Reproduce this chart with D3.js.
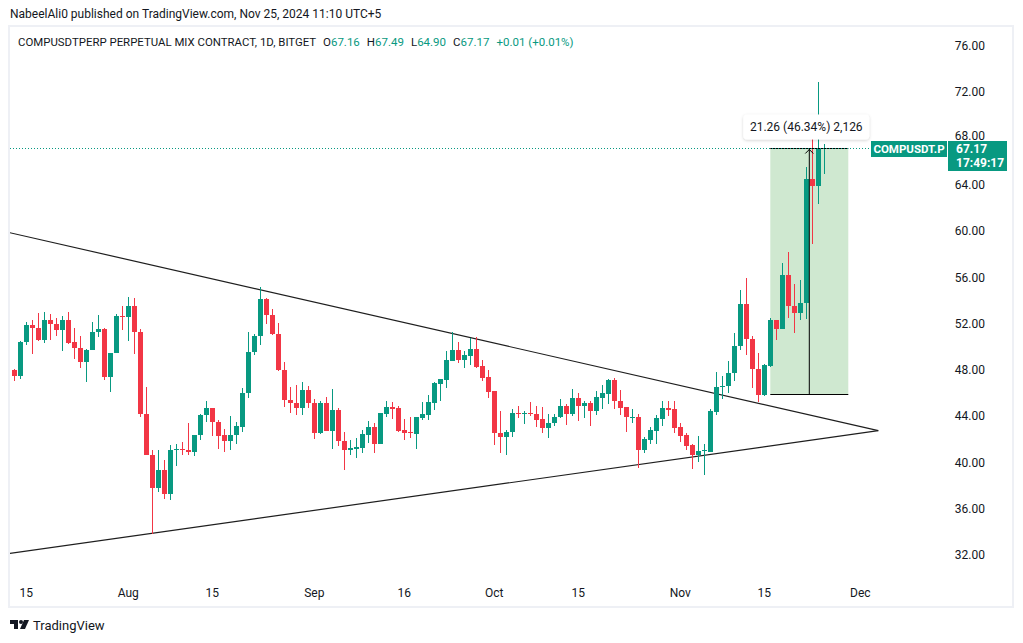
<!DOCTYPE html>
<html lang="en">
<head>
<meta charset="utf-8">
<title>COMPUSDT.P 1D</title>
<script src="https://cdn.jsdelivr.net/npm/d3@7"></script>
<style>
  body { margin: 0; background: #fff; }
  text { font-family: Roboto, "Liberation Sans", sans-serif; }
</style>
</head>
<body>
<script>
// daily candles, first one is Jul 13 2024
const firstDay = "2024-07-13";
const opens = [
  47.96, 47.44, 50.38, 51.90, 51.64, 50.61, 52.34, 51.99, 51.41, 52.34, 50.43, 49.92, 48.65, 49.69, 51.24, 51.56, 47.35, 49.43, 52.68,
  52.54, 53.54, 51.30, 44.22, 40.68, 37.77, 39.38, 37.25, 41.11, 41.19, 41.11, 40.88, 42.34, 44.07, 44.73, 43.53, 42.34, 41.83, 42.34, 43.04, 45.97, 49.51, 50.90, 54.15, 52.77, 51.13, 48.02, 45.43, 45.17, 44.68, 46.29,
  45.17, 42.52, 45.17, 42.69, 44.56, 41.89, 41.05, 41.14, 41.22, 42.35, 43.04, 41.57, 44.16, 44.77, 44.68, 42.78, 42.61, 42.43, 43.81, 44.07, 45.11, 46.75, 47.10, 48.74, 49.69, 48.83, 49.17, 49.78, 48.31, 47.36,
  46.15, 42.58, 42.18, 42.61, 44.31, 44.16, 44.31, 44.22, 43.73, 42.95, 43.38, 43.90, 44.91, 44.22, 45.60, 44.91, 45.17, 44.48, 45.60, 45.95, 47.16, 45.34, 44.83, 43.90, 43.96, 41.05, 41.92, 42.69, 43.73, 44.74, 44.65,
  43.04, 42.35, 41.48, 40.62, 40.97, 40.88, 44.39, 46.55, 46.58, 47.70, 50.03, 53.69, 50.66, 48.07, 45.86, 48.36, 52.33, 51.53, 56.22, 53.54, 52.91, 53.78, 64.51, 63.94, 67.16
];
const highs = [
  48.07, 50.52, 52.16, 52.34, 52.88, 53.03, 52.80, 52.45, 52.62, 53.03, 51.64, 50.95, 49.83, 52.16, 52.77, 51.64, 49.49, 52.80, 53.54,
  54.32, 54.24, 51.53, 46.55, 41.11, 41.11, 40.24, 41.48, 41.57, 41.80, 43.41, 42.40, 44.22, 45.34, 44.73, 43.70, 42.92, 43.99, 43.53, 46.40, 51.24, 51.13, 55.16, 54.24, 53.29, 52.08, 48.71, 46.49, 46.72, 46.98, 46.64,
  45.51, 45.34, 45.69, 46.38, 44.74, 42.66, 41.97, 42.14, 42.78, 43.56, 43.38, 44.25, 45.28, 45.20, 44.86, 43.73, 43.90, 43.90, 45.20, 45.80, 46.92, 47.18, 49.60, 51.24, 50.38, 49.60, 50.72, 50.81, 48.83, 47.96,
  46.15, 44.48, 42.84, 44.65, 44.91, 44.48, 45.26, 44.91, 44.83, 44.22, 44.22, 45.51, 45.08, 46.38, 46.03, 45.34, 45.34, 46.21, 46.72, 47.24, 47.33, 46.29, 44.83, 44.65, 44.22, 42.18, 43.04, 44.08, 45.34, 45.34, 45.34,
  43.39, 42.52, 41.57, 42.26, 41.57, 44.65, 47.85, 47.50, 48.80, 51.18, 54.87, 55.96, 50.89, 49.45, 48.53, 52.48, 52.33, 57.23, 58.15, 55.44, 55.79, 65.58, 68.60, 72.92, 67.49
];
const lows = [
  47.01, 47.24, 50.12, 49.40, 50.52, 50.32, 50.61, 50.90, 49.66, 50.26, 48.97, 48.19, 46.92, 49.69, 50.87, 47.10, 46.06, 49.43, 51.41,
  50.46, 49.34, 43.93, 40.62, 33.85, 37.42, 36.82, 36.73, 39.67, 40.62, 40.62, 40.53, 41.91, 43.47, 42.26, 41.14, 40.88, 41.05, 41.57, 42.60, 45.54, 49.26, 50.12, 51.93, 50.98, 47.88, 44.79, 44.25, 44.07, 44.07, 44.68,
  42.00, 42.43, 42.69, 41.14, 41.40, 39.32, 40.62, 40.36, 40.79, 41.66, 40.79, 41.57, 43.90, 43.73, 42.61, 41.92, 42.09, 41.14, 43.64, 43.64, 44.51, 45.28, 46.41, 48.74, 48.57, 48.13, 48.39, 48.13, 47.01, 45.54,
  41.48, 40.79, 40.62, 42.18, 43.82, 43.30, 43.99, 43.04, 42.52, 42.09, 43.12, 43.82, 43.21, 43.99, 43.56, 43.82, 43.12, 44.08, 44.65, 45.08, 44.65, 44.13, 42.61, 43.38, 39.50, 40.79, 41.57, 41.57, 43.12, 43.99, 42.52,
  41.74, 41.05, 39.41, 40.02, 38.89, 40.88, 44.13, 45.51, 46.00, 47.01, 49.74, 49.25, 46.43, 45.20, 45.71, 48.25, 50.55, 51.53, 52.48, 51.18, 52.33, 52.39, 58.87, 62.32, 64.90
];
const closes = [
  47.44, 50.43, 51.90, 51.59, 50.61, 52.34, 51.93, 51.41, 52.34, 50.32, 49.86, 48.65, 49.74, 51.30, 51.56, 47.35, 49.49, 52.68, 52.62,
  53.54, 51.24, 44.16, 40.62, 37.77, 39.38, 37.25, 41.11, 41.19, 41.11, 40.88, 42.40, 44.13, 44.73, 43.47, 42.26, 41.83, 42.40, 43.12, 46.03, 49.57, 50.95, 54.15, 52.71, 51.07, 47.96, 45.37, 45.11, 44.68, 46.29, 45.11,
  42.52, 45.17, 42.69, 44.56, 41.83, 41.05, 41.22, 41.31, 42.43, 43.04, 41.57, 44.25, 44.77, 44.59, 42.69, 42.52, 42.52, 43.90, 44.16, 45.20, 46.84, 47.18, 48.83, 49.69, 48.83, 49.26, 49.78, 48.22, 47.27, 46.06,
  42.52, 42.18, 42.67, 44.31, 44.16, 44.31, 44.16, 43.64, 42.95, 43.44, 43.96, 44.91, 44.22, 45.60, 44.91, 45.17, 44.48, 45.69, 46.03, 47.16, 45.29, 44.74, 43.90, 43.96, 41.05, 42.00, 42.78, 43.82, 44.74, 44.56, 42.95,
  42.26, 41.40, 40.62, 40.97, 41.05, 44.48, 46.55, 46.64, 47.73, 50.09, 53.69, 50.66, 48.07, 45.86, 48.45, 52.33, 51.53, 56.22, 53.49, 52.91, 53.78, 64.51, 63.94, 67.16, 67.17
];

const priceTicks = [32, 36, 40, 44, 48, 52, 56, 60, 64, 68, 72, 76];
const timeTicks = [
  ["2024-07-15", "15"], ["2024-08-01", "Aug"], ["2024-08-15", "15"], ["2024-09-01", "Sep"], ["2024-09-16", "16"],
  ["2024-10-01", "Oct"], ["2024-10-15", "15"], ["2024-11-01", "Nov"], ["2024-11-15", "15"], ["2024-12-01", "Dec"]
];

// triangle drawn on the chart
const upperTrend = [["2024-07-12", 59.89], ["2024-12-04", 42.75]];
const lowerTrend = [["2024-07-12", 32.12], ["2024-12-04", 42.75]];

// price range measurement
const measureFrom = ["2024-11-16", 45.88];
const measureTo = ["2024-11-29", 67.14];

const symbolTag = "COMPUSDT.P";
const countdown = "17:49:17";

const W = 1023, H = 643;
const up = "#089981", down = "#f23645", ink = "#131722";
const parse = d3.utcParse("%Y-%m-%d");
const fmt = d3.format(".2f");

const candles = opens.map((o, i) => ({
  date: d3.utcDay.offset(parse(firstDay), i),
  o, h: highs[i], l: lows[i], c: closes[i]
}));

const x = d3.scaleUtc()
  .domain([parse("2024-07-12"), parse("2024-12-04")])
  .range([8.3, 878.3]);
const y = d3.scaleLinear().domain([32, 76]).range([555, 46]);

const svg = d3.select("body").append("svg")
  .attr("width", W).attr("height", H)
  .style("display", "block");

svg.append("rect").attr("width", W).attr("height", H).attr("fill", "#fff");

const defs = svg.append("defs");
defs.append("clipPath").attr("id", "plot")
  .append("rect").attr("x", 10).attr("y", 27).attr("width", 937).attr("height", 548);
const sh = defs.append("filter").attr("id", "shadow").attr("x", "-20%").attr("y", "-40%").attr("width", "140%").attr("height", "180%");
sh.append("feDropShadow").attr("dx", 0).attr("dy", 1).attr("stdDeviation", 1.5).attr("flood-color", "#000").attr("flood-opacity", 0.18);

// publisher line
svg.append("text").attr("x", 10).attr("y", 18)
  .attr("font-size", 12).attr("fill", ink)
  .text("NabeelAli0 published on TradingView.com, Nov 25, 2024 11:10 UTC+5");

// outer frame
svg.append("rect").attr("x", 9).attr("y", 26).attr("width", 1004).attr("height", 581)
  .attr("fill", "none").attr("stroke", "#eef0f5").attr("stroke-width", 2);

const plot = svg.append("g").attr("clip-path", "url(#plot)");

// measurement box (under the candles)
const mx0 = x(parse(measureFrom[0])), mx1 = x(parse(measureTo[0]));
const myLo = y(measureFrom[1]), myHi = y(measureTo[1]);
plot.append("rect")
  .attr("x", mx0).attr("y", myHi).attr("width", mx1 - mx0).attr("height", myLo - myHi)
  .attr("fill", "#cfe8d0");

// trendlines
const line = d3.line().x(d => x(parse(d[0]))).y(d => y(d[1]));
plot.selectAll("path.trend")
  .data([upperTrend, lowerTrend])
  .join("path")
  .attr("class", "trend")
  .attr("d", line)
  .attr("fill", "none").attr("stroke", "#1e1e1e").attr("stroke-width", 1.2);

// candles
const cg = plot.append("g").attr("shape-rendering", "crispEdges");
const cand = cg.selectAll("g").data(candles).join("g")
  .attr("fill", d => d.c >= d.o ? up : down);
cand.append("rect")
  .attr("x", d => Math.round(x(d.date)))
  .attr("y", d => y(d.h))
  .attr("width", 1)
  .attr("height", d => Math.max(1, y(d.l) - y(d.h)));
cand.append("rect")
  .attr("x", d => Math.round(x(d.date)) - 2)
  .attr("y", d => y(Math.max(d.o, d.c)))
  .attr("width", 5)
  .attr("height", d => Math.max(1, Math.abs(y(d.o) - y(d.c))));

// measurement lines + arrow
const mxMid = (mx0 + mx1) / 2;
const mg = plot.append("g").attr("stroke", "#000").attr("stroke-width", 1).attr("fill", "none");
mg.append("line").attr("x1", mx0).attr("x2", mx1).attr("y1", Math.round(myLo) + 0.5).attr("y2", Math.round(myLo) + 0.5);
mg.append("line").attr("x1", mx0).attr("x2", mx1).attr("y1", Math.round(myHi) + 0.5).attr("y2", Math.round(myHi) + 0.5);
mg.append("line").attr("x1", mxMid).attr("x2", mxMid).attr("y1", myLo).attr("y2", myHi);
mg.append("path").attr("d", `M${mxMid - 4},${myHi + 5}L${mxMid},${myHi + 1}L${mxMid + 4},${myHi + 5}`);

// last price dotted line
const last = candles[candles.length - 1];
const prev = candles[candles.length - 2];
const ly = Math.round(y(last.c)) + 0.5;
svg.append("line").attr("x1", 10).attr("x2", 871).attr("y1", ly).attr("y2", ly)
  .attr("stroke", up).attr("stroke-width", 1).attr("stroke-dasharray", "1,2");

// measurement label
const diff = measureTo[1] - measureFrom[1];
const mLabel = `${fmt(diff)} (${fmt(diff / measureFrom[1] * 100)}%) ${d3.format(",")(Math.round(diff * 100))}`;
const lg = svg.append("g").attr("transform", `translate(${mxMid - 3},127)`);
lg.append("rect").attr("x", -63).attr("y", -12.5).attr("width", 126).attr("height", 25).attr("rx", 4)
  .attr("fill", "#fff").attr("filter", "url(#shadow)");
lg.append("text").attr("text-anchor", "middle").attr("dy", "0.35em")
  .attr("font-size", 12).attr("fill", ink).text(mLabel);

// price axis (the 68 label sits mostly behind the price tag, like the original)
svg.append("g").selectAll("text").data(priceTicks).join("text")
  .attr("x", 985).attr("y", d => y(d)).attr("dy", d => d === 68 ? "0.1em" : "0.35em")
  .attr("text-anchor", "end").attr("font-size", 12).attr("fill", ink)
  .text(d => fmt(d));

// time axis
svg.append("g").selectAll("text").data(timeTicks).join("text")
  .attr("x", d => x(parse(d[0]))).attr("y", 597)
  .attr("text-anchor", "middle").attr("font-size", 12).attr("fill", ink)
  .text(d => d[1]);

// last price tags
const ty = Math.round(y(last.c)) - 7;
svg.append("rect").attr("x", 871).attr("y", ty).attr("width", 76).attr("height", 16).attr("fill", up);
svg.append("text").attr("x", 909).attr("y", ty + 12).attr("text-anchor", "middle")
  .attr("font-size", 11.5).attr("font-weight", "bold").attr("fill", "#fff").text(symbolTag);
svg.append("rect").attr("x", 948).attr("y", ty).attr("width", 59).attr("height", 30).attr("fill", up);
svg.append("text").attr("x", 956).attr("y", ty + 12)
  .attr("font-size", 12).attr("font-weight", "bold").attr("fill", "#fff").text(fmt(last.c));
svg.append("text").attr("x", 956).attr("y", ty + 26)
  .attr("font-size", 12).attr("font-weight", "bold").attr("fill", "#fff").text(countdown);

// legend
const chg = last.c - prev.c;
const leg = svg.append("text").attr("x", 18).attr("y", 46).attr("font-size", 11.5).attr("fill", ink);
leg.append("tspan").attr("textLength", 298).attr("lengthAdjust", "spacingAndGlyphs")
  .text("COMPUSDTPERP PERPETUAL MIX CONTRACT, 1D, BITGET");
[["O", last.o], ["H", last.h], ["L", last.l], ["C", last.c]].forEach(([k, v]) => {
  leg.append("tspan").attr("dx", 7).text(k);
  leg.append("tspan").attr("fill", up).text(fmt(v));
});
leg.append("tspan").attr("dx", 7).attr("fill", up)
  .text(`${chg >= 0 ? "+" : ""}${fmt(chg)} (${chg >= 0 ? "+" : ""}${fmt(chg / prev.c * 100)}%)`);

// TradingView mark
const logo = svg.append("g").attr("fill", ink);
logo.append("path").attr("d", "M10,620h8v9h-4v-5h-4z");
logo.append("circle").attr("cx", 21).attr("cy", 622).attr("r", 2);
logo.append("path").attr("d", "M24,620h5l-4,9h-5z");
svg.append("text").attr("x", 33).attr("y", 630).attr("font-size", 13).attr("fill", ink).text("TradingView");
</script>
</body>
</html>
